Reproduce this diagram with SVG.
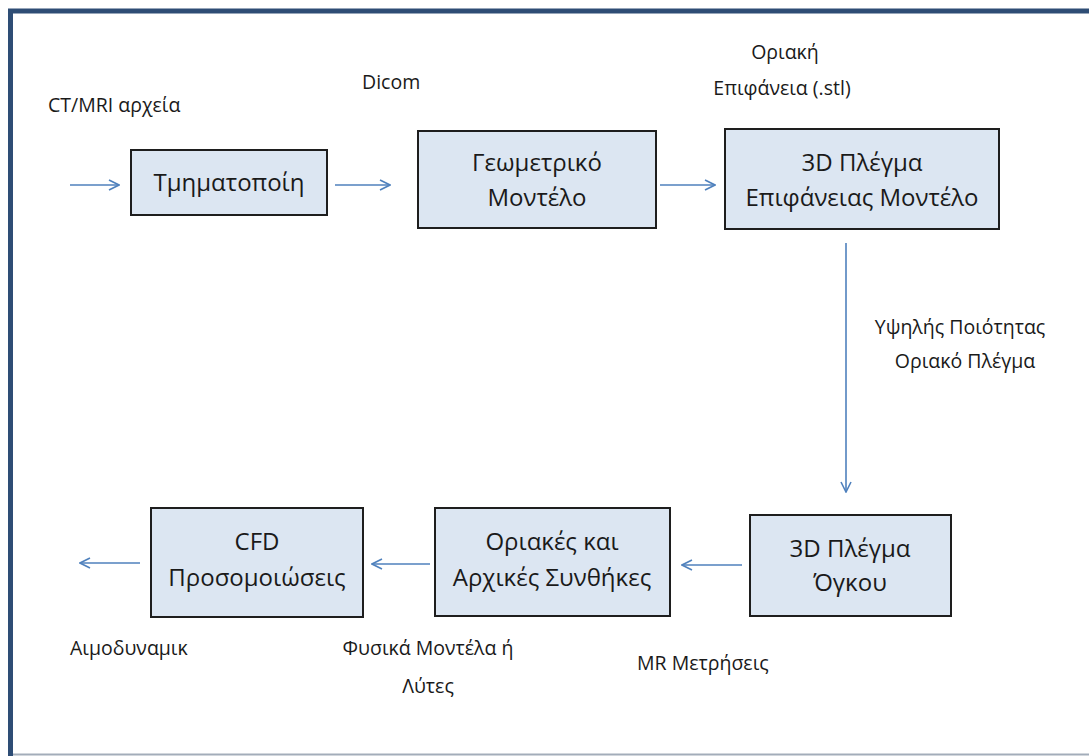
<svg xmlns="http://www.w3.org/2000/svg" width="1089" height="756" viewBox="0 0 1089 756">
  <defs>
    <marker id="arr" viewBox="0 0 12 12" refX="11" refY="6" markerWidth="12" markerHeight="12" markerUnits="userSpaceOnUse" orient="auto">
      <path d="M1,1 L11,6 L1,11" fill="none" stroke="#4f81bd" stroke-width="1.6"/>
    </marker>
  </defs>
  <style>
    .box { fill: #dce6f2; stroke: #1e1e1e; stroke-width: 2; }
    .bt { font-family: "Open Sans", "Noto Sans", sans-serif; font-size: 24px; fill: #1a1a1a; text-anchor: middle; }
    .lb { font-family: "Open Sans", "Noto Sans", sans-serif; font-size: 19.5px; fill: #1a1a1a; }
    .c { text-anchor: middle; }
    .con { stroke: #4f81bd; stroke-width: 1.6; fill: none; marker-end: url(#arr); }
  </style>
  <rect width="1089" height="756" fill="#ffffff"/>
  <g id="frame">
    <line x1="8" y1="11" x2="1089" y2="11" stroke="#2e4d75" stroke-width="5"/>
    <line x1="10.5" y1="9" x2="10.5" y2="756" stroke="#2e4d75" stroke-width="5"/>
    <line x1="13" y1="754.5" x2="1089" y2="754.5" stroke="#a3adba" stroke-width="2"/>
  </g>
  <g id="connectors">
    <line class="con" x1="70" y1="185" x2="119" y2="185"/>
    <line class="con" x1="335" y1="185" x2="390" y2="185"/>
    <line class="con" x1="660" y1="185" x2="715" y2="185"/>
    <line class="con" x1="846" y1="243" x2="846" y2="492"/>
    <line class="con" x1="742" y1="565" x2="682" y2="565"/>
    <line class="con" x1="430" y1="564" x2="372" y2="564"/>
    <line class="con" x1="140" y1="563" x2="80" y2="563"/>
  </g>
  <g id="n1">
    <rect class="box" x="131" y="150" width="196" height="65"/>
    <text class="bt" x="229" y="191">Τμηματοποίη</text>
  </g>
  <g id="n2">
    <rect class="box" x="418" y="131" width="238" height="97"/>
    <text class="bt" x="537" y="171">Γεωμετρικό</text>
    <text class="bt" x="537" y="206">Μοντέλο</text>
  </g>
  <g id="n3">
    <rect class="box" x="725" y="129" width="274" height="100"/>
    <text class="bt" x="862" y="171">3D Πλέγμα</text>
    <text class="bt" x="862" y="206">Επιφάνειας Μοντέλο</text>
  </g>
  <g id="n4">
    <rect class="box" x="750" y="515" width="201" height="101"/>
    <text class="bt" x="850" y="557">3D Πλέγμα</text>
    <text class="bt" x="850" y="591">Όγκου</text>
  </g>
  <g id="n5">
    <rect class="box" x="435" y="508" width="235" height="108"/>
    <text class="bt" x="552" y="550">Οριακές και</text>
    <text class="bt" x="552" y="586">Αρχικές Συνθήκες</text>
  </g>
  <g id="n6">
    <rect class="box" x="151" y="508" width="212" height="109"/>
    <text class="bt" x="257" y="550">CFD</text>
    <text class="bt" x="257" y="586">Προσομοιώσεις</text>
  </g>
  <g id="labels">
    <text class="lb" x="48" y="112">CT/MRI αρχεία</text>
    <text class="lb" x="362" y="89">Dicom</text>
    <text class="lb c" x="785" y="59">Οριακή</text>
    <text class="lb c" x="782" y="95">Επιφάνεια (.stl)</text>
    <text class="lb c" x="960" y="334">Υψηλής Ποιότητας</text>
    <text class="lb c" x="965" y="368">Οριακό Πλέγμα</text>
    <text class="lb" x="70" y="655">Αιμοδυναμικ</text>
    <text class="lb c" x="428" y="655">Φυσικά Μοντέλα ή</text>
    <text class="lb c" x="428" y="693">Λύτες</text>
    <text class="lb" x="637" y="670">MR Μετρήσεις</text>
  </g>
</svg>
